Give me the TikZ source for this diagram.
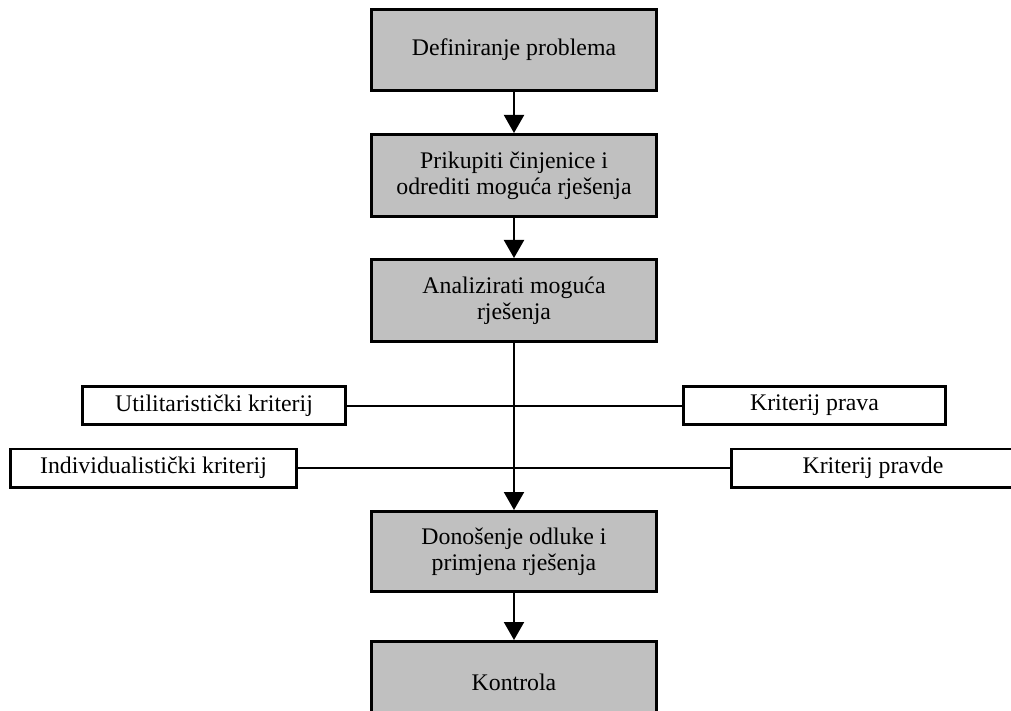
\documentclass[tikz,border=0pt]{standalone}
\usepackage{fontspec}
\setmainfont{Liberation Serif}
\usetikzlibrary{positioning}
\usetikzlibrary{arrows.meta}

\definecolor{boxgray}{RGB}{192,192,192}

\begin{document}
\begin{tikzpicture}[x = 0.5pt, y = -0.5pt,
		font = \fontsize{11.9}{12.8}\selectfont,
		stepbox/.style = {fill = boxgray, draw, rectangle, line width = 1.3pt, align = center, minimum width = 142.7pt, minimum height = 41.2pt},
		critbox/.style = {fill = white, draw, rectangle, line width = 1.3pt, minimum height = 19.2pt},
		link/.style = {line width = 1pt},
		flow/.style = {line width = 1pt, -{Triangle[width = 10pt, length = 9pt]}}]
		\useasboundingbox (0,0) rectangle (1011,711);
		\node[stepbox, minimum height = 40.7pt] at (514,50) (def) {Definiranje problema};
		\node[stepbox, below = 20.5pt of def] (prik) {Prikupiti činjenice i\\odrediti moguća rješenja};
		\node[stepbox, below = 20pt of prik] (anal) {Analizirati moguća\\rješenja};
		\node[stepbox, below = 83.5pt of anal, minimum height = 40.2pt] (don) {Donošenje odluke i\\primjena rješenja};
		\node[stepbox, below = 23.5pt of don] (kon) {Kontrola};
		\node[critbox, minimum width = 131.7pt] at (214,405.5) (util) {Utilitaristički kriterij};
		\node[critbox, minimum width = 131.2pt] at (814.5,405.5) (prava) {Kriterij prava};
		\node[critbox, minimum width = 143.2pt] at (153.5,468) (indiv) {Individualistički kriterij};
		\node[critbox, minimum width = 141.7pt] at (873,468) (pravde) {Kriterij pravde};
		\draw[flow] (def) -- (prik);
		\draw[flow] (prik) -- (anal);
		\draw[flow] (anal) -- (don);
		\draw[flow] (don) -- (kon);
		\draw[link] (util) -- (prava);
		\draw[link] (indiv) -- (pravde);
	\end{tikzpicture}
\end{document}
